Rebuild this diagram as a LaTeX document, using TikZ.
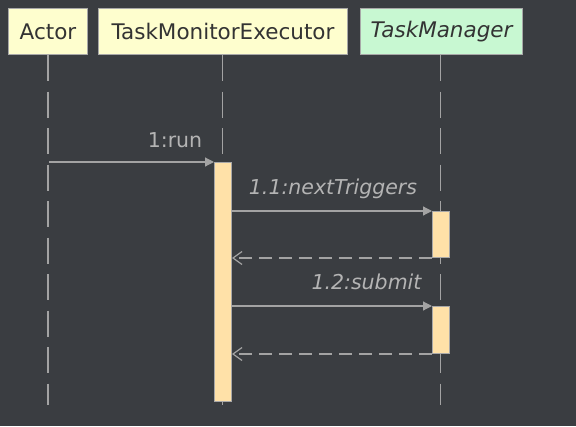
\documentclass[tikz,border=0pt]{standalone}
\usepackage{fontspec}
\setmainfont{DejaVu Sans}
\usetikzlibrary{arrows.meta}
\definecolor{bg}{HTML}{3A3D41}
\definecolor{hdrfill}{HTML}{FEFECE}
\definecolor{tmfill}{HTML}{C8F8D2}
\definecolor{hdrline}{HTML}{A8A8A8}
\definecolor{hdrtext}{HTML}{333333}
\definecolor{linecol}{HTML}{A3A3A3}
\definecolor{lbl}{HTML}{B4B4B4}
\definecolor{actfill}{HTML}{FFE1A8}
\tikzset{
  hdr/.style={draw=hdrline, line width=1pt, fill=hdrfill, inner sep=0pt, text=hdrtext, font=\fontsize{21.5}{24}\selectfont, anchor=north west},
  lifeline/.style={draw=linecol, line width=1.2pt, dash pattern=on 26pt off 10.5pt},
  actbox/.style={draw=hdrline, line width=1pt, fill=actfill, inner sep=0pt, anchor=north west, minimum width=17pt},
  msg/.style={draw=linecol, line width=1.2pt, -{Triangle[length=9pt,width=9pt]}},
  ret/.style={draw=linecol, line width=1.2pt, dash pattern=on 13pt off 7pt, -{Straight Barb[length=9pt,width=13pt,line width=1.2pt]}},
  mlbl/.style={text=lbl, font=\fontsize{20.5}{24}\selectfont\itshape, inner sep=0pt, anchor=base},
}
\begin{document}
\begin{tikzpicture}[x=1pt,y=-1pt]
\fill[bg] (0,0) rectangle (576,426);
\useasboundingbox (0,0) rectangle (576,426);
% lifeline ends
\coordinate (aTop) at (48,55);
\coordinate (aBot) at (48,405);
\coordinate (eTop) at (222.5,55);
\coordinate (eBot) at (222.5,405);
\coordinate (mTop) at (440.5,55);
\coordinate (mBot) at (440.5,405);
\draw[lifeline] (aTop) -- (aBot);
\draw[lifeline] (eTop) -- (eBot);
\draw[lifeline] (mTop) -- (mBot);
% headers
\node[hdr, minimum width=79pt, minimum height=46pt] (actor) at (8,8) {Actor};
\node[hdr, minimum width=249pt, minimum height=46pt] (tme) at (98,8) {TaskMonitorExecutor};
\node[hdr, fill=tmfill, minimum width=162pt, minimum height=46pt, font=\fontsize{21.5}{24}\selectfont\itshape] (tm) at (360,8) {TaskManager};
% activations
\node[actbox, minimum height=239pt] (eact) at (214,162) {};
\node[actbox, minimum height=46pt] (m1) at (432,211) {};
\node[actbox, minimum height=47pt] (m2) at (432,306) {};
% messages
\coordinate (runStart) at (49,162);
\draw[msg] (runStart) -- (eact.north west);
\node[mlbl] (l1) at (175,147) {\upshape 1:run};
\draw[msg] (eact.east |- m1.north west) -- (m1.north west);
\node[mlbl] (l2) at (333,194) {1.1:nextTriggers};
\draw[ret] (m1.south west) -- (eact.east |- m1.south west);
\draw[msg] (eact.east |- m2.north west) -- (m2.north west);
\node[mlbl] (l3) at (366.5,289) {1.2:submit};
\draw[ret] (m2.south west) -- (eact.east |- m2.south west);
\end{tikzpicture}
\end{document}
